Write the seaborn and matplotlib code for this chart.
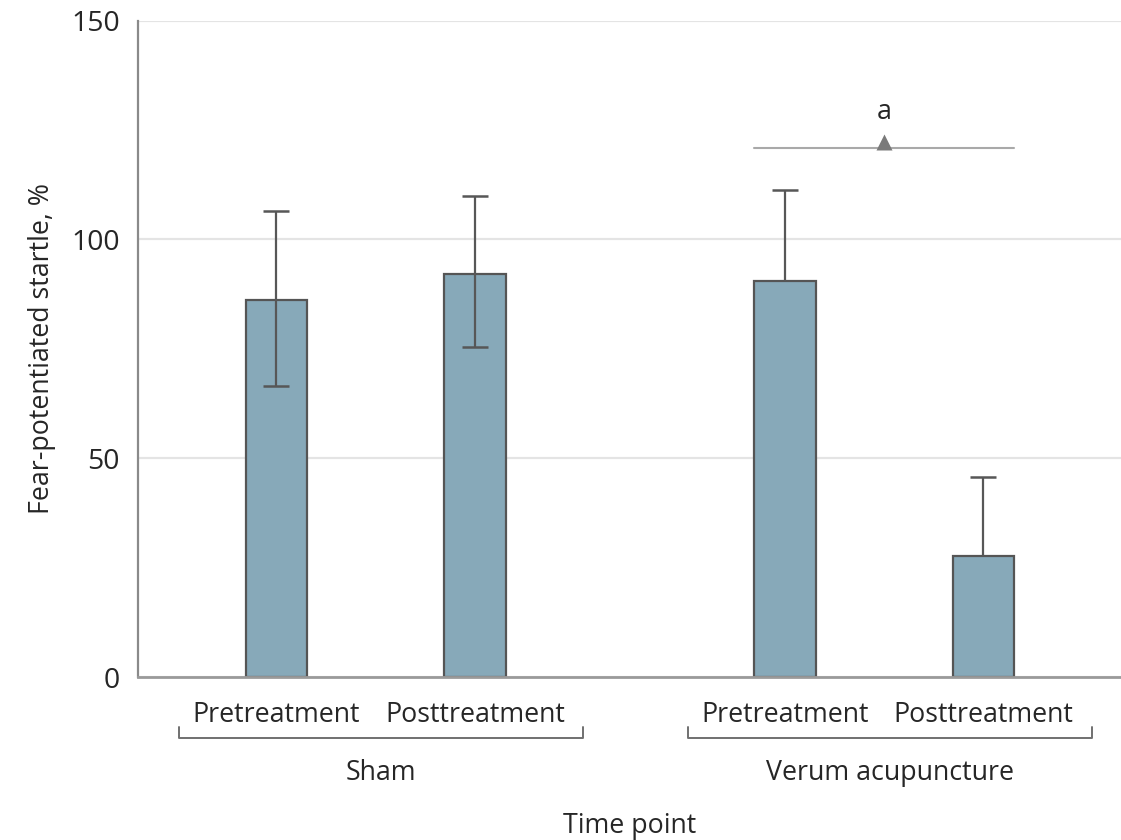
import numpy as np
import pandas as pd
import matplotlib
matplotlib.use("Agg")
import matplotlib.pyplot as plt
import matplotlib.transforms as mtransforms
import seaborn as sns

# ---- data ----
groups = ["Sham", "Verum acupuncture"]
timepoints = ["Pretreatment", "Posttreatment"]
means = [86.1, 92.2, 90.5, 27.7]          # bar heights, %
err_upper = [106.4, 109.9, 111.2, 45.8]   # top of error bar
err_lower = [66.4, 75.4, np.nan, np.nan]  # bottom of error bar (only Sham shown)
yticks = [0, 50, 100, 150]
sig_label = "a"
sig_value = 120.8
ylabel = "Fear-potentiated startle, %"
xlabel = "Time point"

# ---- style ----
sns.set_style("white")
plt.rcParams["font.family"] = ["Open Sans", "DejaVu Sans"]
TXT = "#262626"
BAR = "#87A9B9"
EDGE = "#555555"
ERR = "#575757"
FS = 19.3

group_gap = 2.562
bar_w = 0.309
rows = []
k = 0
for gi, g in enumerate(groups):
    for ti, t in enumerate(timepoints):
        rows.append(dict(group=g, time=t, pos=gi * group_gap + ti, mean=means[k],
                         hi=err_upper[k], lo=err_lower[k]))
        k += 1
df = pd.DataFrame(rows)

fig = plt.figure(figsize=(11.21, 8.4), dpi=100)
ax = fig.add_axes([0.1231, 0.194, 0.8769, 0.7815])

sns.barplot(data=df, x="pos", y="mean", native_scale=True, width=bar_w,
            color=BAR, edgecolor=EDGE, linewidth=1.6, errorbar=None,
            saturation=1, ax=ax, zorder=2)

# error bars
for _, r in df.iterrows():
    lo = r["lo"] if not np.isnan(r["lo"]) else r["mean"]
    ax.plot([r["pos"], r["pos"]], [lo, r["hi"]], color=ERR, lw=1.6, zorder=4,
            solid_capstyle="butt")
    ax.plot([r["pos"]], [r["hi"]], marker="_", ms=19, mew=1.8, color=ERR, zorder=4)
    if not np.isnan(r["lo"]):
        ax.plot([r["pos"]], [r["lo"]], marker="_", ms=19, mew=1.8, color=ERR, zorder=4)

# significance marker over Verum acupuncture
vp = df[df["group"] == groups[1]]["pos"].to_numpy()
ax.plot([vp.min() - bar_w / 2, vp.max() + bar_w / 2], [sig_value, sig_value],
        color="#a9a9a9", lw=1.5, zorder=3)
ax.plot([vp.mean()], [sig_value + 1.45], marker="^", ms=11, color="#7a7a7a",
        mec="none", zorder=4)
ax.text(vp.mean(), 129.2, sig_label, ha="center", va="center", fontsize=FS, color=TXT)

# axes
ax.set_xlim(-0.697, 4.255)
ax.set_ylim(0, 150)
ax.set_yticks(yticks)
ax.set_yticklabels([str(v) for v in yticks], fontsize=FS + 1, color=TXT)
ax.set_xticks(df["pos"])
ax.set_xticklabels(df["time"], fontsize=FS, color=TXT)
ax.tick_params(axis="x", length=0, pad=17)
ax.tick_params(axis="y", length=7, width=1.4, color="#8a8a8a", pad=6)
ax.grid(axis="y", color="#e4e4e4", lw=1.6, zorder=0)
ax.set_axisbelow(True)
for s in ["top", "right"]:
    ax.spines[s].set_visible(False)
ax.spines["left"].set_color("#8a8a8a")
ax.spines["left"].set_linewidth(1.6)
ax.spines["bottom"].set_color("#9a9a9a")
ax.spines["bottom"].set_linewidth(2.0)
ax.spines["bottom"].set_zorder(5)

# group brackets
trans = mtransforms.blended_transform_factory(ax.transData, ax.transAxes)
for gi, g in enumerate(groups):
    p = df[df["group"] == g]["pos"].to_numpy()
    x0, x1 = p.min() - 0.49, p.max() + 0.545
    ax.plot([x0, x0, x1, x1], [-0.076, -0.093, -0.093, -0.076], transform=trans,
            color="#707070", lw=1.4, clip_on=False)
    ax.text((x0 + x1) / 2, -0.146, g, transform=trans, ha="center", va="center",
            fontsize=FS, color=TXT)

ax.set_xlabel(xlabel, fontsize=FS, color=TXT)
ax.xaxis.set_label_coords(0.5005, -0.206)
ax.set_ylabel(ylabel, fontsize=FS, color=TXT)
ax.yaxis.set_label_coords(-0.083, 0.5)

fig.savefig("out.png", dpi=100)
